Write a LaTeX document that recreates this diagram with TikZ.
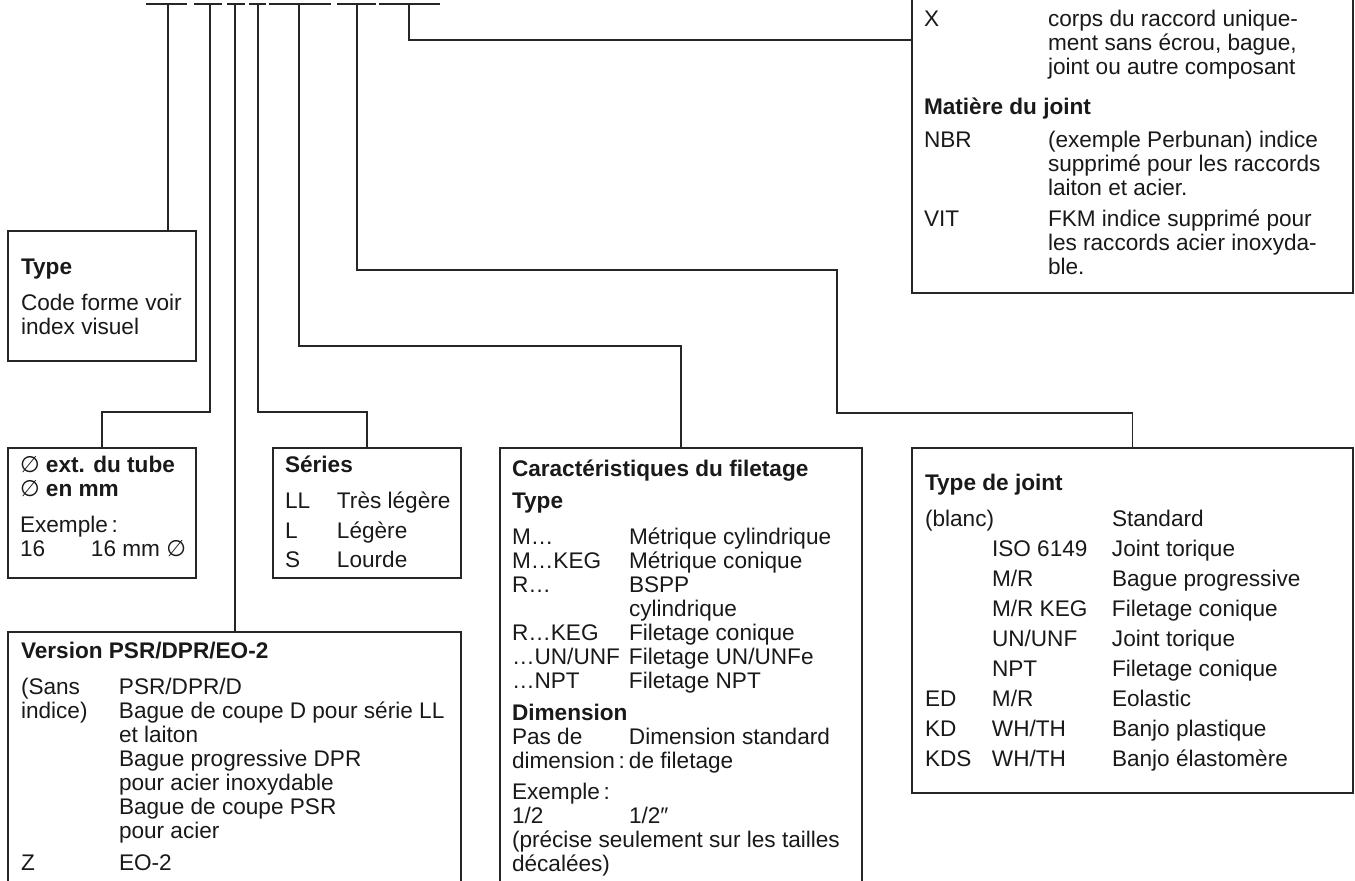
\documentclass[tikz,border=0pt]{standalone}
\usepackage{amsmath, amssymb}
\usepackage{array}
\usepackage{fontspec}
\setmainfont{Liberation Sans}
\newfontfamily\diafont{DejaVu Sans}
\setlength{\tabcolsep}{0pt}

\begin{document}
\begin{tikzpicture}[x=0.5pt, y=-0.5pt,
		every node/.style={inner sep=0pt, outer sep=0pt, text=black!90, font=\fontsize{11.3}{12}\selectfont},
		box/.style={draw=black!85, line width=0.6pt, anchor=north west},
		lead/.style={draw=black!85, line width=0.6pt},
		txt/.style={anchor=base west}]
	\useasboundingbox (0,0) rectangle (1355,881);

	% kódmezők
	\foreach \a/\b in {146/187, 194/222, 227/245, 249/266, 269/331, 337/376, 379/440}
		\draw[lead] (\a,4) -- (\b,4);
	\foreach \n/\x in {1/168, 2/210, 3/235, 4/258, 5/299, 6/357, 7/409}
		\coordinate (t\n) at (\x,4);

	% dobozok
	\node[box, minimum width=94pt, minimum height=65pt] (type) at (8,231) {};
	\node[box, minimum width=94pt, minimum height=65pt] (dia) at (8,448) {};
	\node[box, minimum width=94pt, minimum height=65pt] (series) at (273,448) {};
	\node[box, minimum width=226.5pt, minimum height=134pt] (version) at (8,632) {};
	\node[box, minimum width=181pt, minimum height=226pt] (thread) at (500,448) {};
	\node[box, minimum width=220.5pt, minimum height=172.5pt] (seal) at (912,448) {};
	\node[box, minimum width=220.5pt, minimum height=166.5pt] (extra) at (912,-40) {};

	% vonalak
	\draw[lead] (t1) -- (t1 |- type.north);
	\draw[lead] (t2) -- ++(0,408) -| (dia.north);
	\draw[lead] (t3) -- (t3 |- version.north);
	\draw[lead] (t4) -- ++(0,408) -| (series.north);
	\draw[lead] (t5) -- ++(0,342) -| (thread.north);
	\draw[lead] (t6) |- (837,270) -- (837,413) -| (seal.north);
	\coordinate (k7) at (409,40);
	\draw[lead] (t7) -- (k7) -- (k7 -| extra.west);

	% feliratok
	\node[txt] (typetxt) at (21,275) {\begin{tabular}[t]{@{}l@{}}
		\bfseries Type\\[6pt]
		Code forme voir\\
		index visuel
	\end{tabular}};

	\node[txt] (diatxt) at (20,473) {\begin{tabular}[t]{@{}p{35.5pt}l@{}}
		\multicolumn{2}{@{}l}{{\diafont ∅} \bfseries ext. du tube}\\
		\multicolumn{2}{@{}l}{{\diafont ∅} \bfseries en mm}\\[6pt]
		\multicolumn{2}{@{}l}{Exemple\,:}\\
		16 & 16 mm {\diafont ∅}
	\end{tabular}};

	\node[txt] (seriestxt) at (285,473) {\begin{tabular}[t]{@{}p{26pt}l@{}}
		\multicolumn{2}{@{}l}{\bfseries Séries}\\[6pt]
		LL & Très légère\\[3pt]
		L & Légère\\[2.5pt]
		S & Lourde
	\end{tabular}};

	\node[txt] (versiontxt) at (21,659) {\begin{tabular}[t]{@{}p{49pt}l@{}}
		\multicolumn{2}{@{}l}{\bfseries Version PSR/DPR/EO-2}\\[6pt]
		(Sans & PSR/DPR/D\\
		indice) & Bague de coupe D pour série LL\\
		& et laiton\\
		& Bague progressive DPR\\
		& pour acier inoxydable\\
		& Bague de coupe PSR\\
		& pour acier\\[4pt]
		Z & EO-2
	\end{tabular}};

	\node[txt] (threadtxt) at (512,477) {\begin{tabular}[t]{@{}p{58.5pt}l@{}}
		\multicolumn{2}{@{}l}{\bfseries Caractéristiques du filetage}\\[4pt]
		\multicolumn{2}{@{}l}{\bfseries Type}\\[6pt]
		M… & Métrique cylindrique\\
		M…KEG & Métrique conique\\
		R… & BSPP\\
		& cylindrique\\
		R…KEG & Filetage conique\\
		…UN/UNF & Filetage UN/UNFe\\
		…NPT & Filetage NPT\\[4pt]
		\multicolumn{2}{@{}l}{\bfseries Dimension}\\
		Pas de & Dimension standard\\
		dimension\,: & de filetage\\[3.5pt]
		\multicolumn{2}{@{}l}{Exemple\,:}\\
		1/2 & 1/2″\\
		\multicolumn{2}{@{}l}{(précise seulement sur les tailles}\\
		\multicolumn{2}{@{}l}{décalées)}
	\end{tabular}};

	\node[txt] (sealtxt) at (925,491) {\renewcommand{\arraystretch}{1.25}\begin{tabular}[t]{@{}p{33.5pt}p{60pt}l@{}}
		\multicolumn{3}{@{}l}{\bfseries Type de joint}\\[3pt]
		\multicolumn{2}{@{}l}{(blanc)} & Standard\\
		& ISO 6149 & Joint torique\\
		& M/R & Bague progressive\\
		& M/R KEG & Filetage conique\\
		& UN/UNF & Joint torique\\
		& NPT & Filetage conique\\
		ED & M/R & Eolastic\\
		KD & WH/TH & Banjo plastique\\
		KDS & WH/TH & Banjo élastomère
	\end{tabular}};

	\node[txt] (extratxt) at (924,27) {\begin{tabular}[t]{@{}p{62pt}l@{}}
		X & corps du raccord unique-\\
		& ment sans écrou, bague,\\
		& joint ou autre composant\\[8pt]
		\multicolumn{2}{@{}l}{\bfseries Matière du joint}\\[4.5pt]
		NBR & (exemple Perbunan) indice\\
		& supprimé pour les raccords\\
		& laiton et acier.\\[3.5pt]
		VIT & FKM indice supprimé pour\\
		& les raccords acier inoxyda-\\
		& ble.
	\end{tabular}};

\end{tikzpicture}
\end{document}
